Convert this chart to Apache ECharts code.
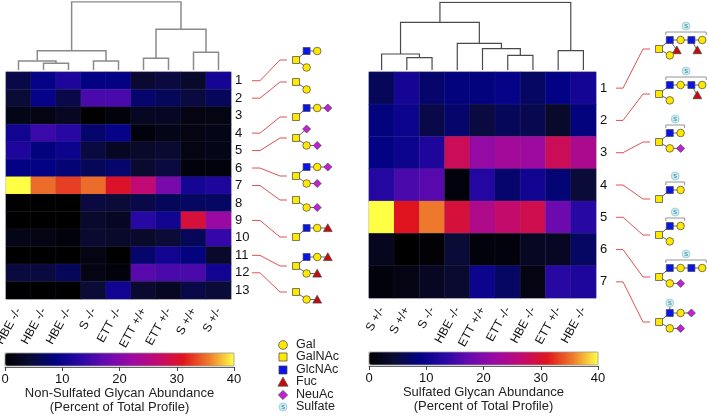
<!DOCTYPE html>
<html><head><meta charset="utf-8">
<script src="https://cdn.jsdelivr.net/npm/echarts@6/dist/echarts.min.js"></script>
<style>html,body{margin:0;padding:0;background:#fff}#c{width:708px;height:418px}</style>
</head><body><div id="c"></div>
<script>
// ---------------- DATA ----------------
const leftCols = ['HBE -/-','HBE -/-','HBE -/-','S -/-','ETT -/-','ETT +/+','ETT +/-','S +/+','S +/-'];
const leftRows = ['1','2','3','4','5','6','7','8','9','10','11','12','13'];
const leftValues = [
  [5.5, 9.5, 12, 9, 9, 4, 5, 3.5, 11],
  [4.5, 9.5, 5.5, 15.5, 15.5, 7.5, 6.5, 5, 6.5],
  [2, 1.5, 3, 0, 1, 3, 3, 1.5, 1.5],
  [10.5, 14.5, 13, 7.5, 9.5, 1, 2, 1.5, 2],
  [12, 8.5, 10, 5, 3, 3.5, 4, 1.5, 2],
  [9, 9, 8, 6.5, 7.5, 4, 5, 1, 1],
  [40, 35, 33, 35, 30.5, 26.5, 19, 11, 12],
  [0, 0, 0, 5, 4.5, 5.5, 6.5, 7, 7],
  [0, 0, 0, 3.5, 3, 13, 10.5, 29.5, 22],
  [2, 1.5, 1, 4, 3.5, 3.5, 4.5, 6.5, 14],
  [0, 0, 0, 1.5, 0, 7.5, 10.5, 8.5, 3.5],
  [5, 5, 6.5, 1.5, 1, 16.5, 15.5, 15.5, 10.5],
  [0, 0, 0, 4.5, 10.5, 4, 3, 5.5, 4.5]
];
const rightCols = ['S +/-','S +/+','S -/-','HBE -/-','ETT +/+','ETT -/-','HBE -/-','ETT +/-','HBE -/-'];
const rightRows = ['1','2','3','4','5','6','7'];
const rightValues = [
  [6.5, 11, 7.5, 8.5, 8.5, 9.5, 7, 9, 11],
  [8.5, 10, 5.5, 7.5, 5, 6.5, 6, 3.5, 8.5],
  [9, 10, 12, 28, 21.5, 23, 22.5, 28, 24],
  [12.5, 15.5, 16.5, 1, 12.5, 7.5, 10.5, 8, 4.5],
  [40, 31, 35.5, 29.5, 24.5, 27, 28.5, 18, 13],
  [2.5, 0, 0.5, 4.5, 1, 1, 3, 3, 7],
  [1, 1.5, 3, 4, 10, 7, 1.5, 13, 12]
];
// dendrogram merges: [childA, childB, height]; leaves 0..8, merged nodes numbered 9+
const leftMerges = [[1,2,6.7],[0,9,9],[3,4,9],[10,11,19.3],[5,6,11.7],[7,8,17.7],[13,14,40.7],[12,15,68.3]];
const rightMerges = [[1,2,12.3],[0,9,16],[5,6,14.7],[4,11,21.3],[3,12,26.7],[10,13,47.7],[7,8,19.3],[14,15,67.7]];
const colorTicks = [0, 10, 20, 30, 40];
const legendNames = ['Gal','GalNAc','GlcNAc','Fuc','NeuAc','Sulfate'];
// glycan structures: residue [type, col, lane, parentIndex]
const leftGlycans = [
  {row:1, res:[['GalNAc',0,0,-1],['GlcNAc',1,-1,0],['Gal',2,-1,1],['Gal',1,1,0]]},
  {row:2, res:[['GalNAc',0,0,-1],['Gal',1,1,0]]},
  {row:4, res:[['GalNAc',0,0,-1],['GlcNAc',1,-1,0],['Gal',2,-1,1],['NeuAc',3,-1,2]]},
  {row:5, res:[['GalNAc',0,0,-1],['NeuAc',1,-1,0],['Gal',1,1,0],['NeuAc',2,1,2]]},
  {row:6, res:[['GalNAc',0,0,-1],['GlcNAc',1,-1,0],['Gal',2,-1,1],['NeuAc',3,-1,2],['Gal',1,1,0],['NeuAc',2,1,4]]},
  {row:7, res:[['GalNAc',0,0,-1],['Gal',1,1,0],['NeuAc',2,1,1]]},
  {row:9, res:[['GalNAc',0,0,-1],['GlcNAc',1,-1,0],['Gal',2,-1,1],['Fuc',3,-1,2]]},
  {row:11, res:[['GalNAc',0,0,-1],['GlcNAc',1,-1,0],['Gal',2,-1,1],['Fuc',3,-1,2],['Gal',1,1,0],['Fuc',2,1,4]]},
  {row:12, res:[['GalNAc',0,0,-1],['Gal',1,1,0],['Fuc',2,1,1]]}
];
const rightGlycans = [
  {row:1, res:[['GalNAc',0,0,-1],['GlcNAc',1,-1,0],['Gal',2,-1,1],['GlcNAc',3,-1,2],['Gal',4,-1,3],['Fuc',1.65,0.15,1],['Fuc',3.55,0.15,3],['Gal',1,0.85,0]], sulf:'bracket'},
  {row:2, res:[['GalNAc',0,0,-1],['GlcNAc',1,-1,0],['Gal',2,-1,1],['GlcNAc',3,-1,2],['Gal',4,-1,3],['Fuc',3.55,0.15,3],['Gal',1,0.85,0]], sulf:'bracket'},
  {row:3, res:[['GalNAc',0,0,-1],['GlcNAc',1,-1,0],['Gal',2,-1,1],['Gal',1,0.85,0],['NeuAc',2,0.85,3]], sulf:'bracket'},
  {row:4, res:[['GalNAc',0,0,-1],['GlcNAc',1,-1,0],['Gal',2,-1,1]], sulf:'bracket'},
  {row:5, res:[['GalNAc',0,0,-1],['GlcNAc',1,-1,0],['Gal',2,-1,1],['Gal',1,0.85,0]], sulf:'bracket'},
  {row:6, res:[['GalNAc',0,0,-1],['GlcNAc',1,-1,0],['Gal',2,-1,1],['GlcNAc',3,-1,2],['Gal',4,-1,3],['Gal',1,0.85,0],['NeuAc',2,0.85,5]], sulf:'bracket'},
  {row:7, res:[['GalNAc',0,0,-1],['GlcNAc',1,-1,0],['Gal',2,-1,1],['NeuAc',3,-1,2],['Gal',1,0.85,0],['NeuAc',2,0.85,4]], sulf:'direct'}
];

// ---------------- LAYOUT / STYLE ----------------
const FONT = 'Liberation Sans, Arial, sans-serif';
const cmap = ['#000000','#0b0b36','#020284','#2a08a6','#6a0ab0','#9c0aa2','#c20a72','#e0141c','#ee7a2c','#ffff44'];
const leftGlyY = [60, 82, 117, 138, 176, 200, 237, 266, 292];
const rightGlyY = [49, 94, 142, 199, 235, 277, 322];

function heatData(vals){ const d=[]; vals.forEach((r,i)=>r.forEach((v,j)=>d.push([j,i,v]))); return d; }
function dendroData(merges){
  const x=[0,1,2,3,4,5,6,7,8], h=[0,0,0,0,0,0,0,0,0], out=[];
  merges.forEach(([a,b,ht])=>{
    out.push({coords:[[x[a],h[a]],[x[a],ht],[x[b],ht],[x[b],h[b]]]});
    x.push((x[a]+x[b])/2); h.push(ht);
  });
  return out;
}
function grid(left,top,width,height,extra){return Object.assign({left:left,top:top,width:width,height:height,containLabel:false,outerBoundsMode:'none'},extra||{});}
function catX(gi,cols){return {type:'category',gridIndex:gi,data:cols,axisLine:{show:false},axisTick:{show:false},
  axisLabel:{rotate:61,margin:10,fontSize:12,fontFamily:FONT,color:'#111',interval:0}};}
function catY(gi,rows){return {type:'category',gridIndex:gi,data:rows,inverse:true,position:'right',axisLine:{show:false},axisTick:{show:false},
  axisLabel:{margin:4,fontSize:13,fontFamily:FONT,color:'#111',interval:0}};}
function dendX(gi){return {type:'value',gridIndex:gi,min:-0.5,max:8.5,show:false};}
function dendY(gi){return {type:'value',gridIndex:gi,min:0,max:68,show:false};}
function cbX(gi,name){return {type:'value',gridIndex:gi,min:0,max:40,interval:10,position:'bottom',
  axisLine:{show:true,lineStyle:{color:'#666',width:1}},axisTick:{show:true,length:4,lineStyle:{color:'#444'}},
  splitLine:{show:false},axisLabel:{margin:6,fontSize:13,fontFamily:FONT,color:'#111',
  formatter:v=>colorTicks.indexOf(v)>=0?String(v):''},
  name:name,nameLocation:'middle',nameGap:19,nameTextStyle:{fontSize:13,lineHeight:14,fontFamily:FONT,color:'#222'}};}
function cbY(gi){return {type:'value',gridIndex:gi,show:false};}

const option = {
  animation:false,
  backgroundColor:'#fff',
  grid:[
    grid(6,72,225,227,{show:true,borderColor:'#c8c8d8',borderWidth:1}),
    grid(369,72,227,226,{show:true,borderColor:'#c8c8d8',borderWidth:1}),
    grid(6,2,225,68), grid(369,2,227,68),
    grid(5,366,229,1), grid(369,365,229,1)
  ],
  xAxis:[catX(0,leftCols),catX(1,rightCols),dendX(2),dendX(3),
    cbX(4,'Non-Sulfated Glycan Abundance\n(Percent of Total Profile)'),cbX(5,'Sulfated Glycan Abundance\n(Percent of Total Profile)')],
  yAxis:[catY(0,leftRows),catY(1,rightRows),dendY(2),dendY(3),cbY(4),cbY(5)],
  visualMap:[
    {type:'continuous',seriesIndex:0,min:0,max:40,orient:'horizontal',left:5,top:353,itemWidth:13,itemHeight:229,
     calculable:false,hoverLink:false,padding:0,inRange:{color:cmap}},
    {type:'continuous',seriesIndex:1,min:0,max:40,orient:'horizontal',left:369,top:352,itemWidth:13,itemHeight:229,
     calculable:false,hoverLink:false,padding:0,inRange:{color:cmap}}
  ],
  series:[
    {type:'heatmap',xAxisIndex:0,yAxisIndex:0,data:heatData(leftValues),itemStyle:{borderColor:'rgba(110,110,140,0.25)',borderWidth:0.5}},
    {type:'heatmap',xAxisIndex:1,yAxisIndex:1,data:heatData(rightValues),itemStyle:{borderColor:'rgba(110,110,140,0.25)',borderWidth:0.5}},
    {type:'lines',coordinateSystem:'cartesian2d',xAxisIndex:2,yAxisIndex:2,polyline:true,silent:true,
     lineStyle:{color:'#8a8a8a',width:1.5,opacity:1},data:dendroData(leftMerges)},
    {type:'lines',coordinateSystem:'cartesian2d',xAxisIndex:3,yAxisIndex:3,polyline:true,silent:true,
     lineStyle:{color:'#4a4a4a',width:1.2,opacity:1},data:dendroData(rightMerges)}
  ]
};

const chart = echarts.init(document.getElementById('c'), null, {renderer:'canvas', width:708, height:418});
chart.setOption(option);

// ---------------- GLYPH ANNOTATIONS ----------------
const COL = {Gal:'#ffe800', GalNAc:'#ffe800', GlcNAc:'#0a14e6', Fuc:'#c80a0a', NeuAc:'#c21fd6'};
const g = [];
function sym(type,x,y,s){
  s = s||1;
  const st = {fill:COL[type], stroke:'#444', lineWidth:0.7};
  if(type==='Gal') g.push({type:'circle',shape:{cx:x,cy:y,r:3.8*s},style:st,z:20});
  else if(type==='GalNAc'||type==='GlcNAc') g.push({type:'rect',shape:{x:x-3.5*s,y:y-3.5*s,width:7*s,height:7*s},style:st,z:20});
  else if(type==='Fuc') g.push({type:'polygon',shape:{points:[[x,y-4.2*s],[x+4.4*s,y+3.6*s],[x-4.4*s,y+3.6*s]]},style:st,z:20});
  else if(type==='NeuAc') g.push({type:'polygon',shape:{points:[[x,y-4*s],[x+4*s,y],[x,y+4*s],[x-4*s,y]]},style:st,z:20});
}
function sulfate(x,y){
  g.push({type:'circle',shape:{cx:x,cy:y,r:4},style:{fill:'#c6eef4',stroke:'#8ab8c4',lineWidth:0.6},z:20});
  g.push({type:'text',x:x,y:y+0.3,style:{text:'S',fontSize:5.5,fontFamily:FONT,fill:'#2a6a80',align:'center',verticalAlign:'middle'},z:21});
}
function ln(pts,color,w,z){g.push({type:'polyline',shape:{points:pts},style:{stroke:color,lineWidth:w,fill:null},z:z||10});}
function drawGlycan(gl,x0,y0,dx){
  const pos = gl.res.map(r=>[x0+r[1]*dx, y0+(r[2]<0?r[2]*9:r[2]*7.5)]);
  gl.res.forEach((r,i)=>{ if(r[3]>=0) ln([pos[r[3]],pos[i]],'#555',0.9,15); });
  gl.res.forEach((r,i)=>sym(r[0],pos[i][0],pos[i][1]));
  if(gl.sulf==='bracket'){
    let maxX = x0+dx;
    pos.forEach((p,i)=>{ if(gl.res[i][2]<0) maxX=Math.max(maxX,p[0]); });
    const xa = x0+dx-4, xb = maxX+4, yb = y0-17;
    ln([[xa,yb+3],[xa,yb],[xb,yb],[xb,yb+3]],'#888',0.9,15);
    sulfate((xa+xb)/2, y0-23);
  } else if(gl.sulf==='direct'){
    ln([[x0+dx,y0-9],[x0+dx,y0-19]],'#555',0.9,15);
    sulfate(x0+dx, y0-19);
  }
}
leftGlycans.forEach((gl,k)=>{
  const ry = chart.convertToPixel({xAxisIndex:0,yAxisIndex:0},[0,gl.row-1])[1];
  const gy = leftGlyY[k];
  ln([[252,ry],[260,ry],[280,gy],[287,gy]],'#e05252',1,10);
  drawGlycan(gl,296,gy,10.6);
});
rightGlycans.forEach((gl,k)=>{
  const ry = chart.convertToPixel({xAxisIndex:1,yAxisIndex:1},[0,gl.row-1])[1];
  const gy = rightGlyY[k];
  ln([[616,ry],[623,ry],[643,gy],[650,gy]],'#e05252',1,10);
  drawGlycan(gl,659,gy,10.8);
});
// symbol legend
const legY = [345,357,370,382,395,407];
legendNames.forEach((n,i)=>{
  if(n==='Sulfate') sulfate(283,legY[i]); else sym(n,283,legY[i],1.15);
  g.push({type:'text',x:296,y:legY[i],style:{text:n,fontSize:12.5,fontFamily:FONT,fill:'#222',verticalAlign:'middle'},z:20});
});
// colorbar outlines
g.push({type:'rect',shape:{x:5,y:353,width:229,height:13},style:{fill:null,stroke:'#999',lineWidth:0.8},z:30});
g.push({type:'rect',shape:{x:369,y:352,width:229,height:13},style:{fill:null,stroke:'#999',lineWidth:0.8},z:30});
chart.setOption({graphic:g});
</script></body></html>
